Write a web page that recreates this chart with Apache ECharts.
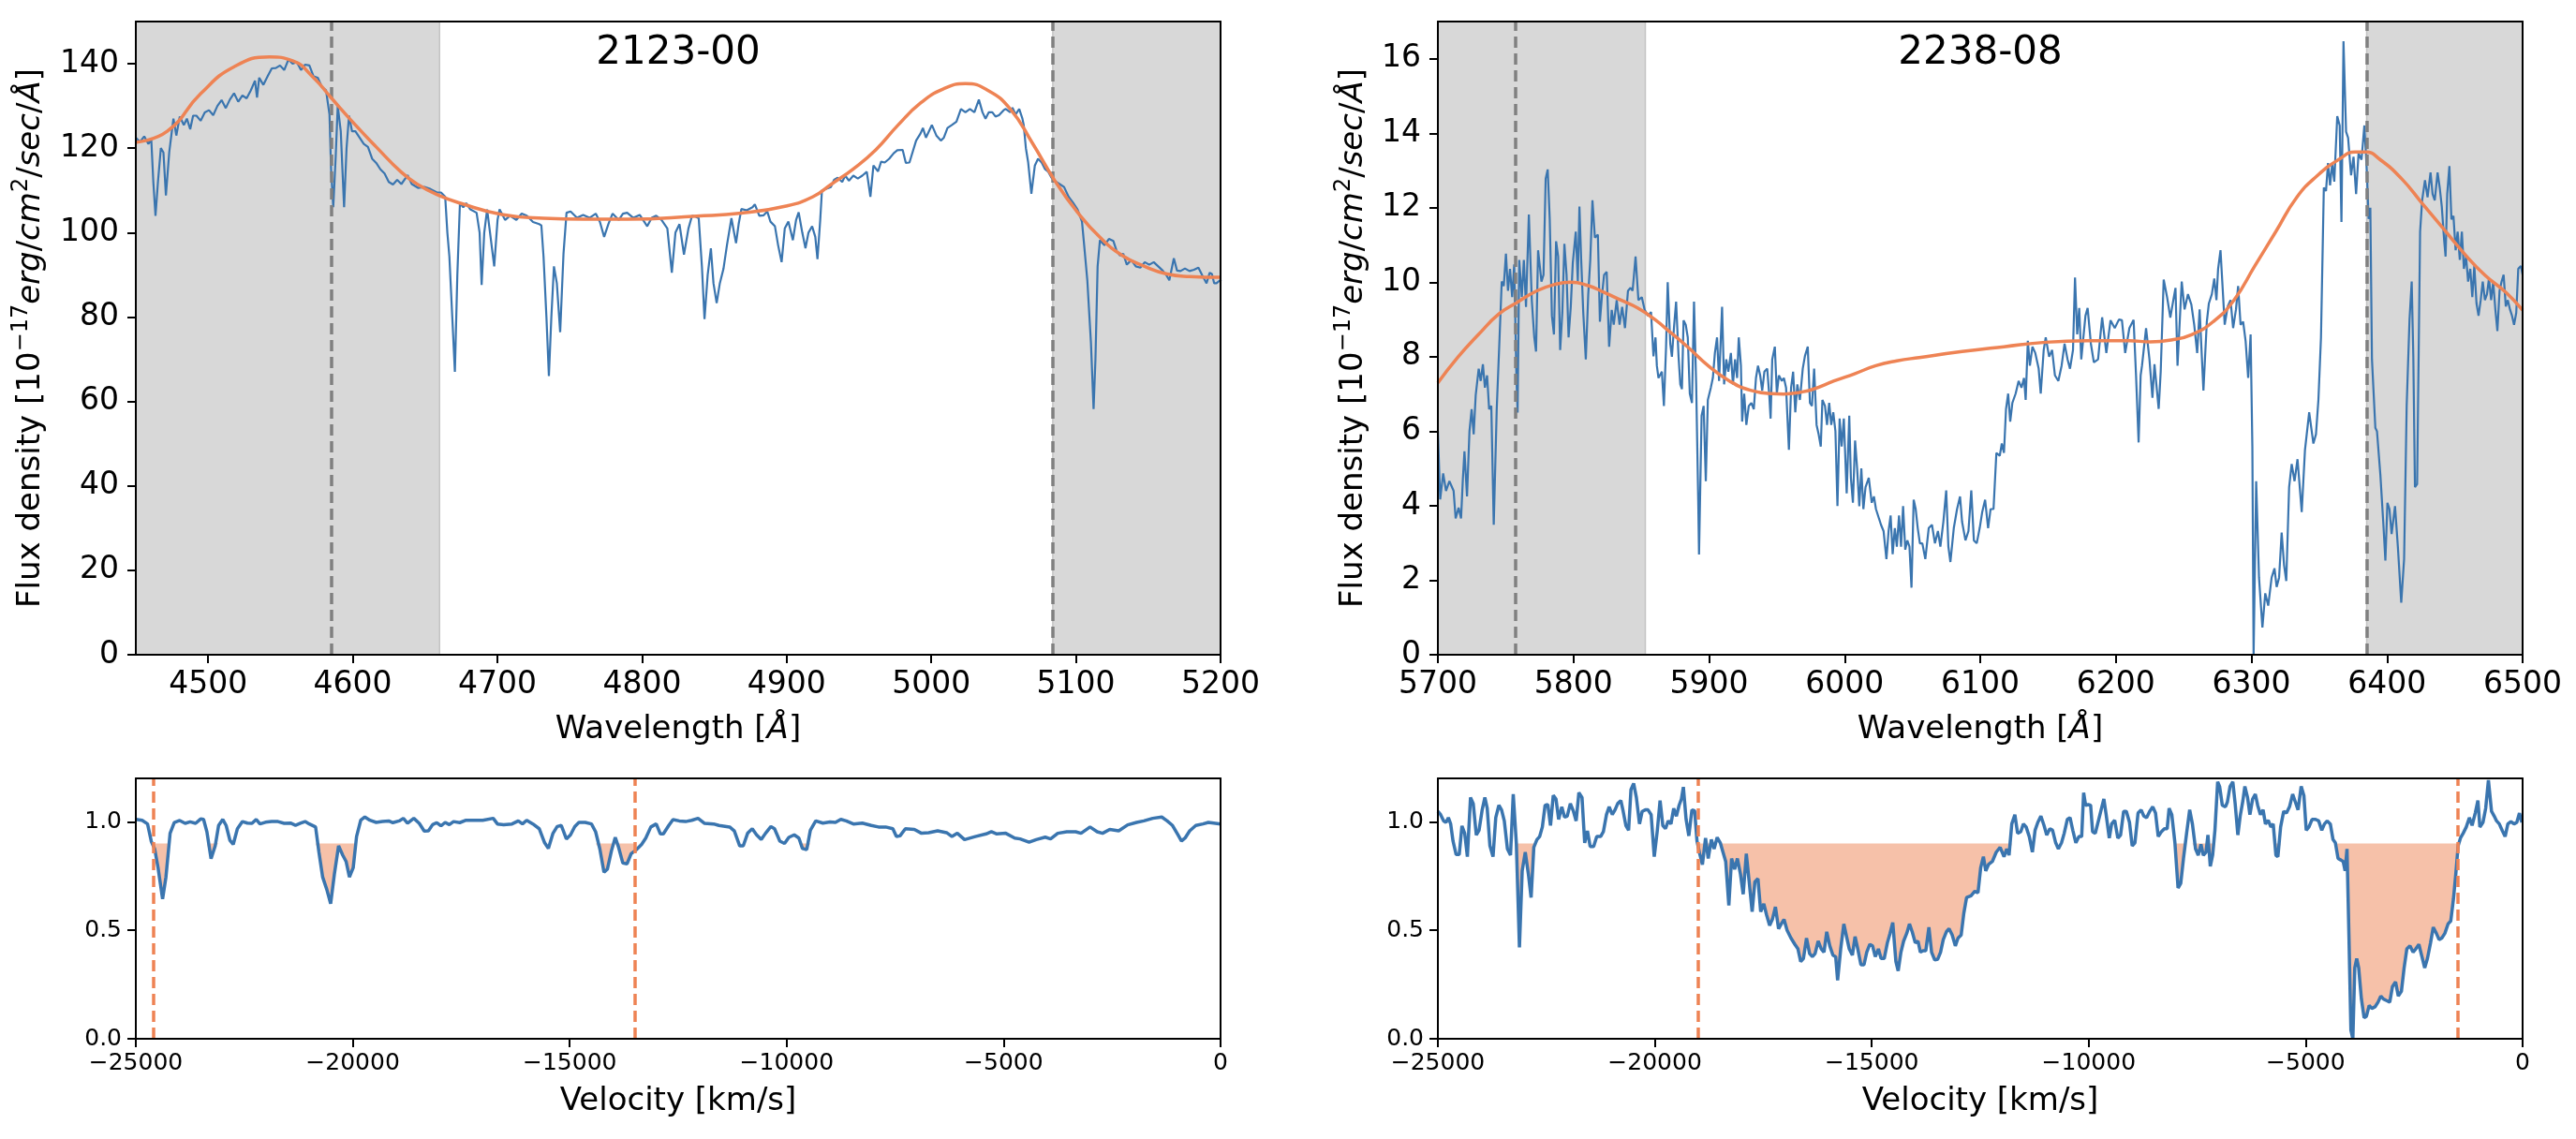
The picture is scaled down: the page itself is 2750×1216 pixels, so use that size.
<!DOCTYPE html>
<html>
<head>
<meta charset="utf-8">
<title>2123-00 / 2238-08</title>
<script src="https://cdn.jsdelivr.net/npm/echarts@6.0.0/dist/echarts.min.js"></script>
<style>
html, body { margin: 0; padding: 0; background: #fff; }
#chart { width: 2750px; height: 1216px; }
</style>
</head>
<body>
<div id="chart"></div>
<script>
// ---- tick values / labels ----
const waveTicks2123 = [4500, 4600, 4700, 4800, 4900, 5000, 5100, 5200]
const waveTicks2238 = [5700, 5800, 5900, 6000, 6100, 6200, 6300, 6400, 6500]
const fluxTicks2123 = [0, 20, 40, 60, 80, 100, 120, 140]
const fluxTicks2238 = [0, 2, 4, 6, 8, 10, 12, 14, 16]
const velTicks = [-25000, -20000, -15000, -10000, -5000, 0]
const velTickLabels = ['\u221225000', '\u221220000', '\u221215000', '\u221210000', '\u22125000', '0']
const normTicks = [0, 0.5, 1]
const normTickLabels = ['0.0', '0.5', '1.0']

const waveRange2123 = [4450, 5200]
const waveRange2238 = [5700, 6500]
const fluxRange2123 = [0, 150]
const fluxRange2238 = [0, 17]
const velRange = [-25000, 0]
const normRange = [0, 1.2]

// ---- shaded windows and marker lines ----
const shade2123 = [[4450, 4660], [5084, 5200]]
const dash2123 = [4585, 5084]
const shade2238 = [[5700, 5853], [6385, 6500]]
const dash2238 = [5757, 6385]
const velDash2123 = [-24590, -13500]
const velDash2238 = [-19000, -1500]
const fillLevel = 0.9
const fillRanges2123 = [[-24566, -24210], [-23362, -23092], [-20857, -19913], [-14403, -13488], [-9718, -9454]]
const fillRanges2238 = [[-23192, -22717], [-19028, -11773], [-8013, -7091], [-5685, -5577], [-4315, -1486]]

// ---- 2123-00 spectrum [wavelength, flux] ----
const flux2123 = [
[4450,122.5],[4452.9,121.5],[4455.8,122.8],[4458.7,121],[4460.7,122],[4462.1,112],[4463.6,104],[4465.3,112],[4467.3,120],[4469.1,119],
[4470.8,108.8],[4473.1,119],[4476,127],[4478,123],[4480.4,127.5],[4483.2,125.5],[4485.3,127],[4487.6,124.5],[4489.6,127.7],[4491.9,127.7],
[4494.8,126.5],[4497.7,128.5],[4500.6,129],[4503.5,127.8],[4506.4,130],[4509.3,131.4],[4512.2,129.5],[4515,131.5],[4517.9,133],[4520.8,131],
[4523.7,132.5],[4526.6,131.8],[4529.5,133.7],[4532.4,136],[4533.8,132],[4535.3,136.7],[4538.2,135],[4541.1,137],[4544,138.9],[4546.8,139],
[4549.7,139.6],[4552.6,138.5],[4555.5,141],[4558.4,140],[4561.3,140.4],[4564.2,138.5],[4567.1,139.8],[4570,139.6],[4572.9,137],[4575.8,136.7],
[4578.7,134.5],[4581.5,133.7],[4583.9,128],[4585,115],[4586.5,106],[4588.2,118],[4589.6,130],[4591.7,124],[4594,106],[4595.7,120],
[4597.4,127.7],[4599.5,124],[4601.8,124],[4604.7,122.5],[4607.6,121],[4610.5,120.3],[4613.4,117.5],[4616.2,116.5],[4619.1,115],[4622,114],
[4624.9,112],[4627.8,111.4],[4630.7,112.5],[4633.6,111.5],[4637.9,113.6],[4640.8,111.5],[4645.1,110.6],[4649.5,110.8],[4653.8,110.3],[4658.2,109.5],
[4661,109.5],[4663.9,108.5],[4665.4,100],[4666.8,94.3],[4668.8,80],[4670.6,67],[4672.3,90],[4674.1,107],[4676.4,106],[4678.4,107],
[4681.3,105.5],[4685.6,104.7],[4687.7,100],[4689.1,87.6],[4690.9,100],[4692.9,105.5],[4694.9,100],[4697.8,92],[4700.1,103],[4701.5,105.5],
[4705.3,103],[4708.7,104],[4713.1,103],[4716.8,104.5],[4720.3,104],[4724.6,102.5],[4728.9,102],[4730.4,101.7],[4731.9,94.3],[4733.9,80],
[4735.6,66],[4737.3,80],[4739.1,92],[4741.1,88],[4743.4,76.4],[4745.7,95],[4747.8,104.7],[4750.6,105],[4755,103.5],[4759.3,104.2],
[4763.7,103.5],[4768,104.5],[4770.9,102.5],[4773.8,99],[4776.7,102],[4779.6,104.5],[4783.9,103],[4786.8,104.5],[4789.7,104.7],[4794,103.5],
[4798.4,104.2],[4803.6,101.5],[4806.7,103.5],[4809.8,104],[4813.5,103],[4817.5,101],[4820.6,90.5],[4823.1,100],[4825.9,102],[4829,94.8],
[4832.1,101],[4834.6,104],[4837,103.8],[4839.2,103.4],[4841.4,92],[4843.2,79.5],[4845.4,90],[4847.6,96.3],[4849.4,88],[4851.6,83.3],
[4853.8,88],[4856.3,91.4],[4858.7,97],[4861.8,103.4],[4865,97.5],[4866.8,102],[4868.7,105.6],[4872.4,105.3],[4876.4,106],[4878,106.7],
[4881.1,104],[4884.1,104.1],[4886.6,105],[4888.8,102.6],[4891.9,101.5],[4894.1,97],[4896.5,93],[4898.7,101],[4901.2,102.6],[4904.3,98.2],
[4906.5,103],[4908.3,104.8],[4910.8,100],[4913,96.3],[4915.1,100],[4917.6,101.5],[4919.8,99],[4921.3,93.7],[4923.2,103],[4924.4,110],
[4927.5,110.4],[4930.6,110.8],[4932.8,112.5],[4935.3,113],[4938.4,112],[4940.5,113.5],[4943,112.3],[4946.1,113.5],[4949.2,112.8],[4952.3,113.5],
[4955.4,114.4],[4957.9,108.5],[4960,115.9],[4963.2,114.5],[4965.3,116.8],[4967.8,116.6],[4970.9,117.5],[4974,118.8],[4976.5,119.5],[4980.2,119.6],
[4982.4,116.5],[4984.9,116.6],[4989.5,121.8],[4992.6,123.5],[4994.2,124.8],[4996.3,122.5],[5000.4,125.5],[5003.5,123],[5006.6,121.8],[5008.7,122.5],
[5011.2,124.8],[5014.3,125.5],[5017.4,126.3],[5020.5,129.3],[5023.6,128.5],[5026.7,129.3],[5029.8,128.5],[5032.9,131.5],[5035.4,128.5],[5037.5,127],
[5039.7,128.5],[5042.2,128.5],[5044.4,127.5],[5046.8,127.8],[5050,129],[5051.5,129.3],[5054.6,128.5],[5056.1,129.6],[5058.3,128],[5060.8,129.3],
[5063,127],[5063.9,125.5],[5065.4,120],[5067,116.6],[5069.2,109.2],[5071.6,115.9],[5073.8,117.5],[5076.3,116.6],[5078.7,115],[5080.9,114.4],
[5083.1,113],[5085.6,112.2],[5088.7,111.5],[5091.8,110.8],[5094.9,108.5],[5098,107.1],[5101.1,105.5],[5104.2,102.6],[5105.7,97],[5107.9,88.6],
[5110.4,73.8],[5112.2,58.2],[5113.5,70],[5115,92],[5116.6,98.2],[5119.7,97],[5122.8,98.5],[5125.9,98],[5128.3,95.5],[5130.5,94.6],
[5132.7,95],[5135.2,92.4],[5138.3,93.5],[5141.4,92],[5144.5,91.7],[5147.6,93],[5150.7,92.4],[5153.8,93],[5156.9,92],[5160,91],
[5162.4,90],[5164.6,88.7],[5167.7,93.9],[5169.9,91],[5172.3,90.9],[5175.4,91.5],[5178.5,90.9],[5181.6,91.2],[5184.7,91.7],[5187.2,90],
[5190.3,88],[5192.5,90.5],[5194,90.2],[5195.6,88],[5197.2,88],[5199.6,88.7],[5200.5,88.5]
]

const model2123 = [
[4450,121.4],[4471.7,124],[4494.8,132.9],[4518,139.3],[4542.5,141.6],[4558.4,140.7],[4572.9,136.7],[4584.4,132.2],[4601.8,125.5],[4616.2,120.3],
[4633.6,114.3],[4645,111.4],[4659.6,108.8],[4674,107],[4703,104.3],[4731.9,103.4],[4760,103.2],[4789.7,103.2],[4837.7,103.9],[4868.7,104.6],
[4899.6,106.3],[4918.2,108.5],[4930.6,111.4],[4946.1,115.1],[4961.6,119.6],[4977.1,125.5],[4992.6,130.7],[5008.1,134],[5023.6,135.3],[5039.1,133.7],
[5054.6,129.3],[5070.1,121.1],[5085.6,112.2],[5101.1,104.8],[5116.6,98.9],[5132,94.6],[5147.5,92],[5163,90.2],[5178.5,89.6],[5200,89.4]
]

// ---- 2238-08 spectrum [wavelength, flux] ----
const flux2238 = [
[5700,6.0],[5701.7,4.17],[5703.9,4.87],[5706,4.4],[5708.5,4.66],[5711.6,4.4],[5713.1,3.66],[5715.3,3.95],[5717.1,3.66],[5718.4,4.7],
[5719.6,5.46],[5721.5,4.25],[5723.3,6.0],[5724.9,6.59],[5726.4,5.92],[5727.9,6.97],[5730.1,7.68],[5731.6,7.35],[5733.2,7.8],[5734.7,7.17],
[5736.3,7.5],[5737.8,6.59],[5739.4,6.68],[5741.2,3.49],[5743.4,6.59],[5745.5,8.52],[5747.1,10.02],[5748.6,9.9],[5750.2,10.77],[5751.7,9.77],
[5753.2,10.36],[5754.8,9.6],[5756.3,10.48],[5757.9,7.5],[5758.8,6.5],[5760,10.6],[5761.9,9.6],[5763.4,10.6],[5765,9.34],[5767.1,11.82],
[5769.3,9.5],[5771.1,8.52],[5772.4,8.14],[5773.9,10.86],[5776.4,10.02],[5777.9,10.2],[5779.5,12.78],[5781,13.03],[5782.5,11.69],[5784.1,9.1],
[5785.6,8.6],[5787.2,11.1],[5788.7,10.69],[5790.2,8.18],[5791.8,9.2],[5793.3,11.03],[5794.9,10.2],[5796.4,8.52],[5798,9.34],[5799.5,10.52],
[5801.7,11.36],[5803.2,10.02],[5804.4,12.03],[5805.7,10.6],[5807.2,9.2],[5809.1,7.93],[5810.9,9.68],[5812.4,10.6],[5814,12.2],[5815.8,11.2],
[5818,11.28],[5819.5,8.94],[5821.1,9.68],[5822.6,10.2],[5824.5,10.28],[5826.3,8.27],[5828.2,9.26],[5829.7,8.86],[5831.9,9.52],[5834,8.86],
[5835.9,9.34],[5838,8.77],[5840.2,9.77],[5842.1,9.85],[5843.6,9.77],[5845.8,10.69],[5847.9,9.52],[5850.4,9.6],[5852.5,9.26],[5855,9.1],
[5857.2,9.2],[5859,8.01],[5860.5,8.52],[5861.5,7.76],[5862.7,7.43],[5865.2,7.6],[5866.7,6.68],[5868.3,8.27],[5869.5,10.0],[5871.4,8.35],
[5872.6,8.0],[5874.1,8.77],[5875.7,9.48],[5877.5,8.01],[5878.8,7.26],[5880,7.13],[5881.2,8.98],[5882.8,8.86],[5884.3,8.52],[5885.8,7.01],
[5887.4,6.76],[5888.9,9.48],[5890.5,7.26],[5892,4.16],[5892.6,2.69],[5894.5,6.42],[5896,6.68],[5897.6,4.66],[5899.1,6.84],[5901.3,7.17],
[5902.8,7.43],[5904.3,8.1],[5905.9,8.52],[5907.4,7.35],[5909.6,9.34],[5911.1,7.26],[5912.7,7.93],[5914.2,7.6],[5916.1,8.1],[5917.6,7.26],
[5919.2,7.93],[5920.7,7.43],[5921.9,8.52],[5923.5,7.76],[5924.4,6.26],[5925.9,7.01],[5927.5,6.17],[5929.3,6.68],[5931.2,6.76],[5933,6.59],
[5934.6,7.43],[5936.1,7.76],[5937.7,7.5],[5939.2,7.09],[5940.8,7.6],[5942.9,7.68],[5944.5,6.92],[5945.4,6.34],[5946.6,7.93],[5948.5,8.27],
[5950,7.01],[5951.5,7.5],[5953.7,7.35],[5955.2,7.43],[5956.8,7.17],[5958.9,5.5],[5960.5,7.17],[5962,7.6],[5963.6,6.51],[5965.1,7.26],
[5967,6.84],[5969.1,7.68],[5970.7,8.02],[5972.8,8.27],[5974.4,6.76],[5975.9,6.68],[5977.5,7.68],[5979.3,6.17],[5980.8,5.92],[5982.4,5.59],
[5983.6,6.84],[5985.5,6.68],[5987,6.17],[5988.6,6.76],[5990.1,6.17],[5991.6,6.51],[5993.2,6.0],[5994.7,3.99],[5996.3,6.34],[5997.8,5.59],
[5999.4,6.34],[6001.5,4.33],[6003.4,6.42],[6004.6,4.75],[6006.1,4.08],[6007.7,5.75],[6009.2,5.0],[6010.8,3.99],[6012.3,5.0],[6013.8,3.91],
[6015.4,4.5],[6017.8,4.75],[6020,4.08],[6021.6,4.25],[6023.1,3.91],[6025.3,3.66],[6026.8,3.49],[6028.7,3.32],[6030.8,2.57],[6032.4,3.32],
[6033.9,3.74],[6035.4,2.7],[6037,3.4],[6038.5,2.9],[6040.1,3.74],[6041.6,2.9],[6043.1,3.99],[6044.7,2.82],[6046.2,3.07],[6047.8,2.9],
[6049.3,1.8],[6050.9,4.16],[6052.4,3.91],[6053.9,3.4],[6055.5,2.99],[6057.3,2.99],[6059.5,2.57],[6062,3.4],[6064.4,3.49],[6066.6,2.99],
[6068.8,3.32],[6070.6,2.9],[6072.8,3.57],[6074.9,4.41],[6076.5,2.9],[6078,2.49],[6080.5,3.4],[6082.9,3.91],[6085.1,4.25],[6086.6,3.57],
[6089.1,3.07],[6091.3,3.32],[6093.4,4.41],[6095.3,3.07],[6097.4,2.99],[6099.6,3.4],[6101.4,3.82],[6103.6,4.16],[6105.8,3.4],[6107.6,3.91],
[6109.8,3.91],[6111.9,5.42],[6114.4,5.34],[6115.9,5.67],[6117.5,5.42],[6119,6.59],[6120.6,7.01],[6122.1,6.26],[6123.7,6.76],[6126.1,7.01],
[6128.3,7.35],[6130.4,7.17],[6132.3,7.43],[6133.5,6.84],[6135.1,8.43],[6136.6,7.76],[6138.5,8.27],[6140.6,8.1],[6143.1,7.68],[6144.6,7.01],
[6146.8,8.18],[6148.3,8.52],[6150.8,8.0],[6153,8.18],[6155.1,7.5],[6157.6,7.35],[6160,7.76],[6162.2,8.35],[6164.4,7.93],[6166.2,7.68],
[6168.4,8.18],[6169.9,10.13],[6171.5,8.6],[6173,9.31],[6174.5,7.93],[6177.6,9.1],[6179.2,9.31],[6181.6,8.35],[6183.8,7.85],[6186.9,7.93],
[6189.9,9.06],[6193,8.1],[6196.1,8.98],[6199.2,8.77],[6202.3,9.0],[6204.5,8.98],[6206.9,8.1],[6210,8.77],[6213.1,8.99],[6214.9,7.5],
[6216.8,5.7],[6218.3,7.5],[6219.3,7.76],[6222.3,8.77],[6224.8,7.93],[6227,6.9],[6228.5,7.8],[6231.6,6.6],[6233.1,7.6],[6235.3,10.07],
[6237.8,9.6],[6240.2,9.05],[6242.4,9.52],[6244,9.85],[6245.5,7.76],[6248.6,10.02],[6250.7,9.27],[6253.2,9.68],[6255.7,9.4],[6257.8,8.86],
[6260,8.1],[6261.8,9.27],[6264.6,7.09],[6267.1,8.94],[6268.6,9.43],[6270.8,9.68],[6272.6,10.1],[6274.2,9.52],[6275.4,10.35],[6277.2,10.86],
[6278.5,10.02],[6280.3,8.86],[6282.5,9.35],[6284.6,9.52],[6286.5,8.77],[6288.6,9.27],[6290.2,9.9],[6292,8.86],[6293.9,8.94],[6295.7,8.43],
[6297.6,7.43],[6299.4,8.6],[6300.7,5.58],[6301.6,0.0],[6303.5,4.66],[6305.6,2.07],[6308.1,0.73],[6310.2,1.65],[6312.4,1.32],[6314.9,2.07],
[6317,2.32],[6318.6,1.82],[6320.4,2.07],[6322.3,3.28],[6324.1,2.4],[6325.7,1.98],[6327.8,4.5],[6329.7,5.12],[6331.8,4.66],[6334,5.25],
[6337.1,3.83],[6339.5,5.5],[6342.6,6.51],[6345.7,5.67],[6347.6,5.92],[6349.4,6.84],[6351.3,8.52],[6353.4,12.54],[6355,12.45],[6356.5,13.2],
[6358,12.6],[6359.6,13.2],[6361.1,12.7],[6363.3,14.46],[6365.1,14.21],[6366.4,11.62],[6367.9,16.47],[6369.8,14.04],[6371.3,13.88],[6373.5,12.87],
[6375.3,13.37],[6377.2,12.37],[6379,13.46],[6381.2,13.29],[6383.3,14.21],[6385.2,12.9],[6386.4,11.7],[6387.7,12.0],[6388.9,7.93],[6391.4,6.09],
[6392.6,6.0],[6395.1,4.83],[6397.2,3.57],[6398.8,2.53],[6400.3,4.08],[6401.8,3.91],[6403.4,3.24],[6405.9,3.99],[6408,2.9],[6410.5,1.4],
[6412.6,2.57],[6414.5,6.68],[6416.6,9.0],[6418.2,10.02],[6419.4,8.0],[6420.6,4.5],[6422.2,4.58],[6424.4,11.36],[6425.9,12.2],[6428,12.74],
[6429.9,12.28],[6432.1,12.95],[6433.6,12.37],[6435.2,12.2],[6437.3,12.95],[6438.9,12.53],[6440.4,12.03],[6442,11.19],[6443.2,10.69],[6444.4,12.37],
[6446,13.12],[6447.5,11.69],[6449,11.78],[6450.6,10.86],[6452.1,11.36],[6453.7,10.6],[6455.2,11.36],[6456.7,10.36],[6458.3,10.69],[6459.8,10.02],
[6461.4,10.36],[6462.9,9.6],[6464.4,10.44],[6466,9.43],[6467.5,9.1],[6469.1,9.52],[6470.6,10.02],[6472.2,9.52],[6473.7,9.68],[6475.2,10.1],
[6476.8,9.52],[6478.3,10.02],[6479.9,9.27],[6481.4,8.69],[6483,9.77],[6484.5,10.02],[6486,10.2],[6487.6,9.35],[6489.1,9.52],[6490.7,9.27],
[6492.2,9.1],[6493.7,8.86],[6495.3,9.18],[6496.8,10.36],[6498.7,10.44],[6500,10.2]
]

const model2238 = [
[5700,7.3],[5715,8.0],[5730,8.6],[5745,9.15],[5758,9.45],[5773,9.77],[5786,9.94],[5798,10.0],[5810,9.92],[5822.6,9.73],
[5835,9.52],[5847.3,9.31],[5859.6,9.01],[5872,8.64],[5884.3,8.26],[5899.7,7.75],[5915,7.35],[5930.5,7.1],[5946,7.01],[5955,7.0],
[5967.6,7.05],[5976.8,7.13],[5992.2,7.35],[6007.7,7.55],[6023,7.76],[6038.5,7.89],[6055,7.98],[6086.6,8.14],[6117.5,8.27],[6148.3,8.39],
[6179.2,8.43],[6210,8.43],[6225.4,8.4],[6240.8,8.45],[6256.3,8.6],[6271.7,8.94],[6287.1,9.52],[6302.5,10.44],[6318,11.36],[6333.4,12.28],
[6348.8,12.87],[6364.2,13.29],[6376.6,13.5],[6384.3,13.5],[6395,13.29],[6410.5,12.79],[6425.9,12.12],[6441.3,11.45],[6456.7,10.78],[6472.2,10.19],
[6487.6,9.73],[6500,9.25]
]

// ---- normalised profiles [velocity km/s, flux/continuum] ----
const vel2123 = [
[-25000,1.011],[-24855,1.007],[-24730,0.99],[-24644,0.91],[-24566,0.875],[-24489,0.79],[-24383,0.644],[-24306,0.745],[-24210,0.947],[-24114,0.997],
[-23988,1.006],[-23863,0.993],[-23748,1.0],[-23622,0.993],[-23507,1.013],[-23439,1.011],[-23362,0.954],[-23266,0.83],[-23170,0.889],[-23092,0.983],
[-22996,1.011],[-22919,0.983],[-22832,0.915],[-22755,0.896],[-22659,0.968],[-22543,1.001],[-22428,0.994],[-22322,0.993],[-22225,1.011],[-22139,0.99],
[-22013,0.998],[-21869,1.001],[-21724,1.001],[-21580,0.993],[-21435,0.994],[-21320,0.984],[-21195,0.994],[-21098,1.001],[-21002,0.99],[-20857,0.976],
[-20780,0.86],[-20694,0.745],[-20597,0.687],[-20510,0.622],[-20424,0.759],[-20327,0.889],[-20231,0.846],[-20154,0.817],[-20077,0.745],[-19990,0.788],
[-19913,0.932],[-19817,1.007],[-19721,1.022],[-19605,1.007],[-19460,0.997],[-19316,1.001],[-19171,1.004],[-19075,0.996],[-18931,1.004],[-18834,1.016],
[-18738,0.993],[-18593,1.016],[-18468,0.993],[-18353,0.957],[-18256,0.958],[-18160,0.987],[-18064,0.996],[-17967,0.981],[-17871,0.997],[-17775,0.987],
[-17678,1.001],[-17534,0.996],[-17389,1.007],[-17197,1.007],[-17004,1.007],[-16763,1.016],[-16666,0.99],[-16522,0.986],[-16329,0.99],[-16185,1.004],
[-16089,0.99],[-15992,1.007],[-15848,0.99],[-15703,0.968],[-15578,0.903],[-15491,0.877],[-15385,0.947],[-15289,0.978],[-15193,0.983],[-15077,0.921],
[-14981,0.94],[-14884,0.978],[-14788,0.997],[-14644,0.997],[-14499,0.99],[-14403,0.954],[-14306,0.875],[-14210,0.767],[-14133,0.781],[-14037,0.867],
[-13950,0.928],[-13873,0.882],[-13776,0.81],[-13680,0.806],[-13584,0.853],[-13488,0.867],[-13343,0.896],[-13247,0.925],[-13131,0.976],[-13006,0.99],
[-12910,0.944],[-12842,0.944],[-12717,0.983],[-12620,1.01],[-12476,1.004],[-12331,1.001],[-12187,1.007],[-12042,1.016],[-11898,0.993],[-11685,0.99],
[-11561,0.983],[-11313,0.976],[-11206,0.958],[-11082,0.889],[-11000,0.889],[-10900,0.947],[-10793,0.968],[-10694,0.94],[-10586,0.918],[-10487,0.947],
[-10363,0.978],[-10280,0.968],[-10157,0.911],[-10049,0.9],[-9950,0.928],[-9826,0.94],[-9718,0.925],[-9636,0.877],[-9537,0.872],[-9454,0.961],
[-9330,1.004],[-9165,0.994],[-9000,0.999],[-8876,0.997],[-8752,1.011],[-8628,1.004],[-8463,0.99],[-8256,0.994],[-8049,0.983],[-7884,0.976],
[-7719,0.976],[-7553,0.968],[-7471,0.932],[-7388,0.935],[-7264,0.968],[-7057,0.965],[-6892,0.947],[-6727,0.95],[-6520,0.958],[-6314,0.95],
[-6190,0.932],[-6066,0.947],[-5900,0.918],[-5653,0.932],[-5405,0.944],[-5281,0.954],[-5157,0.944],[-4950,0.947],[-4744,0.925],[-4620,0.921],
[-4413,0.906],[-4248,0.918],[-4041,0.929],[-3917,0.921],[-3752,0.947],[-3545,0.954],[-3339,0.954],[-3215,0.947],[-3008,0.976],[-2843,0.954],
[-2719,0.947],[-2554,0.965],[-2347,0.958],[-2140,0.986],[-1934,0.997],[-1769,1.004],[-1562,1.016],[-1355,1.022],[-1231,1.004],[-1107,0.983],
[-983,0.94],[-901,0.911],[-818,0.925],[-711,0.958],[-570,0.983],[-405,0.99],[-281,0.997],[-157,0.994],[0,0.99]
]

const vel2238 = [
[-25000,1.048],[-24937,1.033],[-24866,1.004],[-24812,0.997],[-24758,1.019],[-24705,0.99],[-24651,0.911],[-24579,0.849],[-24508,0.849],[-24445,0.981],
[-24382,0.947],[-24320,0.839],[-24248,1.112],[-24185,1.084],[-24114,0.939],[-24051,0.961],[-23979,1.055],[-23917,1.112],[-23863,1.062],[-23800,0.889],
[-23729,0.839],[-23666,1.019],[-23594,1.076],[-23532,1.055],[-23469,1.004],[-23397,0.875],[-23326,0.846],[-23263,1.127],[-23192,0.903],[-23120,0.421],
[-23057,0.774],[-22986,0.86],[-22914,0.759],[-22851,0.651],[-22789,0.882],[-22717,0.918],[-22654,0.932],[-22592,0.976],[-22529,1.076],[-22466,1.079],
[-22404,0.983],[-22341,1.122],[-22278,1.105],[-22216,1.011],[-22144,1.069],[-22081,1.022],[-22019,1.026],[-21947,1.084],[-21875,1.048],[-21813,1.004],
[-21750,1.134],[-21678,1.112],[-21616,0.903],[-21553,0.958],[-21490,0.886],[-21410,0.886],[-21338,0.932],[-21249,0.932],[-21186,0.954],[-21114,1.033],
[-21052,1.069],[-20980,1.033],[-20917,1.055],[-20855,1.084],[-20783,1.098],[-20729,1.048],[-20667,0.983],[-20604,0.961],[-20550,1.148],[-20488,1.177],
[-20425,1.112],[-20353,0.99],[-20291,1.048],[-20219,1.055],[-20156,1.055],[-20085,1.033],[-20013,0.839],[-19942,0.961],[-19879,1.098],[-19816,0.983],
[-19754,0.968],[-19691,1.004],[-19628,0.99],[-19565,1.062],[-19503,1.026],[-19440,1.076],[-19387,1.105],[-19342,1.16],[-19279,1.011],[-19216,0.935],
[-19145,1.055],[-19082,1.05],[-19028,0.911],[-18966,0.853],[-18903,0.803],[-18831,0.925],[-18769,0.831],[-18697,0.918],[-18634,0.875],[-18563,0.928],
[-18491,0.903],[-18429,0.86],[-18366,0.817],[-18294,0.615],[-18231,0.831],[-18160,0.781],[-18097,0.831],[-18026,0.759],[-17963,0.666],[-17891,0.853],
[-17829,0.731],[-17757,0.586],[-17694,0.723],[-17623,0.738],[-17560,0.586],[-17488,0.622],[-17426,0.572],[-17354,0.522],[-17291,0.55],[-17220,0.608],
[-17148,0.507],[-17086,0.529],[-17023,0.55],[-16951,0.5],[-16862,0.464],[-16772,0.435],[-16701,0.414],[-16638,0.356],[-16575,0.37],[-16504,0.464],
[-16432,0.392],[-16369,0.378],[-16307,0.392],[-16235,0.45],[-16164,0.414],[-16101,0.399],[-16038,0.493],[-15967,0.428],[-15895,0.385],[-15832,0.378],
[-15787,0.269],[-15716,0.414],[-15644,0.529],[-15581,0.471],[-15519,0.414],[-15447,0.385],[-15385,0.471],[-15322,0.414],[-15250,0.341],[-15179,0.341],
[-15116,0.399],[-15045,0.435],[-14981,0.428],[-14919,0.378],[-14847,0.414],[-14785,0.37],[-14713,0.37],[-14641,0.442],[-14579,0.486],[-14516,0.536],
[-14444,0.356],[-14391,0.313],[-14328,0.399],[-14266,0.45],[-14194,0.486],[-14131,0.529],[-14068,0.493],[-13997,0.442],[-13934,0.45],[-13880,0.399],
[-13818,0.406],[-13755,0.406],[-13683,0.514],[-13621,0.399],[-13549,0.363],[-13478,0.367],[-13415,0.399],[-13352,0.457],[-13281,0.493],[-13218,0.507],
[-13146,0.478],[-13074,0.428],[-13012,0.464],[-12940,0.478],[-12878,0.579],[-12815,0.651],[-12713,0.659],[-12624,0.68],[-12552,0.673],[-12490,0.788],
[-12427,0.839],[-12373,0.774],[-12310,0.803],[-12221,0.817],[-12131,0.86],[-12042,0.882],[-11952,0.839],[-11890,0.875],[-11836,0.846],[-11773,0.99],
[-11702,1.033],[-11639,0.947],[-11567,0.954],[-11505,0.99],[-11442,0.976],[-11370,0.932],[-11298,0.86],[-11236,0.961],[-11173,0.997],[-11102,1.026],
[-11030,0.983],[-10967,0.939],[-10896,0.968],[-10833,0.961],[-10761,0.903],[-10699,0.875],[-10627,0.903],[-10565,0.947],[-10493,1.011],[-10430,1.019],
[-10367,0.961],[-10296,0.903],[-10224,0.932],[-10162,0.932],[-10117,1.134],[-10072,1.076],[-10010,1.079],[-9956,1.076],[-9911,0.954],[-9848,0.947],
[-9777,1.004],[-9714,1.055],[-9651,1.105],[-9598,1.033],[-9526,0.925],[-9472,0.99],[-9401,1.007],[-9329,0.925],[-9266,0.939],[-9195,1.048],
[-9132,1.048],[-9060,0.997],[-8998,0.889],[-8935,0.903],[-8863,1.04],[-8792,1.055],[-8729,1.026],[-8666,1.019],[-8595,1.048],[-8523,1.069],
[-8460,1.04],[-8398,0.932],[-8326,0.954],[-8255,0.968],[-8192,0.968],[-8147,1.062],[-8085,1.033],[-8013,0.903],[-7941,0.695],[-7879,0.716],
[-7816,0.831],[-7744,0.947],[-7673,1.055],[-7610,0.99],[-7538,0.875],[-7476,0.846],[-7413,0.896],[-7359,0.846],[-7297,0.86],[-7252,0.939],
[-7198,0.795],[-7144,0.846],[-7091,0.961],[-7028,1.184],[-6983,1.163],[-6921,1.076],[-6849,1.069],[-6804,1.091],[-6742,1.163],[-6679,1.184],
[-6625,1.084],[-6563,0.939],[-6509,1.026],[-6446,1.098],[-6401,1.163],[-6339,1.112],[-6285,1.033],[-6222,1.105],[-6160,1.127],[-6106,1.076],
[-6043,1.033],[-5981,1.055],[-5927,0.99],[-5864,1.007],[-5801,0.976],[-5748,0.99],[-5685,0.846],[-5640,0.839],[-5577,0.976],[-5506,1.048],
[-5443,1.04],[-5372,1.069],[-5300,1.127],[-5237,1.091],[-5175,1.055],[-5103,1.163],[-5040,1.12],[-4987,0.961],[-4924,0.976],[-4853,1.011],
[-4772,1.011],[-4700,1.004],[-4629,0.961],[-4566,0.99],[-4503,1.004],[-4432,0.99],[-4369,0.918],[-4315,0.903],[-4253,0.831],[-4190,0.824],
[-4136,0.817],[-4091,0.774],[-4047,0.875],[-4002,0.471],[-3957,0.039],[-3912,0.0],[-3868,0.327],[-3823,0.37],[-3778,0.327],[-3715,0.183],
[-3653,0.097],[-3599,0.104],[-3536,0.154],[-3474,0.14],[-3402,0.147],[-3331,0.169],[-3268,0.197],[-3205,0.183],[-3134,0.176],[-3062,0.169],
[-2999,0.241],[-2928,0.262],[-2865,0.197],[-2793,0.219],[-2731,0.327],[-2668,0.414],[-2596,0.428],[-2525,0.399],[-2462,0.414],[-2390,0.435],
[-2328,0.385],[-2256,0.327],[-2193,0.37],[-2122,0.442],[-2059,0.514],[-1988,0.486],[-1925,0.457],[-1862,0.464],[-1791,0.486],[-1719,0.529],
[-1656,0.543],[-1594,0.644],[-1540,0.759],[-1486,0.889],[-1432,0.925],[-1370,0.947],[-1298,0.976],[-1227,1.019],[-1164,0.983],[-1092,1.04],
[-1030,1.098],[-985,0.976],[-913,0.997],[-851,1.062],[-788,1.192],[-716,1.048],[-654,1.026],[-600,1.004],[-537,0.99],[-466,0.958],
[-403,0.932],[-340,0.99],[-269,1.001],[-197,0.99],[-134,0.997],[-72,1.04],[-18,0.997]
]

const FONT = 'DejaVu Sans'
const BLUE = '#3a75af'
const ORANGE = '#ee8354'
const GRAY = '#808080'

// panel boxes in page pixels: [left, top, width, height]
const boxes = [[145, 23, 1158, 676], [1535, 23, 1158, 676], [145, 831, 1158, 278], [1535, 831, 1158, 278]]

function fillSeries(vel, ranges, level) {
    return vel.map(([v, y]) => {
        let inside = ranges.some(r => v >= r[0] && v <= r[1])
        return inside ? [v, Math.min(y, level)] : [v, '-']
    })
}

function mainAxis(dim, gridIndex, range, ticks, labels, fontSize, margin, name) {
    let ax = {
        type: 'value', gridIndex: gridIndex, min: range[0], max: range[1], z: 10,
        position: dim === 'x' ? 'bottom' : 'left',
        axisLine: { show: true, onZero: false, lineStyle: { color: '#000', width: 2 } },
        axisTick: { show: true, length: 9, customValues: ticks, lineStyle: { color: '#000', width: 2 } },
        axisLabel: {
            customValues: ticks, fontFamily: FONT, fontSize: fontSize, color: '#000', margin: margin,
            formatter: v => {
                let i = ticks.indexOf(v)
                return i >= 0 ? labels[i] : ''
            }
        },
        splitLine: { show: false },
        nameMoveOverlap: false
    }
    if (name) Object.assign(ax, name)
    return ax
}

function frameAxis(dim, gridIndex, range) {
    return {
        type: 'value', gridIndex: gridIndex, min: range[0], max: range[1], z: 10,
        position: dim === 'x' ? 'top' : 'right',
        axisLine: { show: true, onZero: false, lineStyle: { color: '#000', width: 2 } },
        axisTick: { show: false }, axisLabel: { show: false }, splitLine: { show: false }
    }
}

const richName = {
    n: { fontFamily: FONT, fontSize: 34, color: '#000', lineHeight: 44 },
    i: { fontFamily: FONT, fontSize: 34, fontStyle: 'italic', color: '#000', lineHeight: 44 },
    s: { fontFamily: FONT, fontSize: 24, color: '#000', lineHeight: 44, verticalAlign: 'top', padding: [0, 0, 14, 0] }
}
const fluxName = '{n|Flux density [10}{s|\u221217}{i|erg}{n|/}{i|cm}{s|2}{n|/}{i|sec}{n|/}{i|\u00c5}{n|]}'
const waveName = '{n|Wavelength [}{i|\u00c5}{n|]}'

function xName(text, gap) {
    return { name: text, nameLocation: 'middle', nameGap: gap, nameTextStyle: { fontFamily: FONT, fontSize: 34, color: '#000', rich: richName } }
}
function yName(text, gap) {
    return { name: text, nameLocation: 'middle', nameRotate: 90, nameGap: gap, nameTextStyle: { fontFamily: FONT, fontSize: 34, color: '#000', rich: richName } }
}

const str = a => a.map(String)

let xAxes = [
    mainAxis('x', 0, waveRange2123, waveTicks2123, str(waveTicks2123), 33, 16, xName(waveName, 58)), frameAxis('x', 0, waveRange2123),
    mainAxis('x', 1, waveRange2238, waveTicks2238, str(waveTicks2238), 33, 16, xName(waveName, 58)), frameAxis('x', 1, waveRange2238),
    mainAxis('x', 2, velRange, velTicks, velTickLabels, 25, 14, xName('Velocity [km/s]', 50)), frameAxis('x', 2, velRange),
    mainAxis('x', 3, velRange, velTicks, velTickLabels, 25, 14, xName('Velocity [km/s]', 50)), frameAxis('x', 3, velRange)
]
let yAxes = [
    mainAxis('y', 0, fluxRange2123, fluxTicks2123, str(fluxTicks2123), 33, 18, yName(fluxName, 90)), frameAxis('y', 0, fluxRange2123),
    mainAxis('y', 1, fluxRange2238, fluxTicks2238, str(fluxTicks2238), 33, 18, yName(fluxName, 68)), frameAxis('y', 1, fluxRange2238),
    mainAxis('y', 2, normRange, normTicks, normTickLabels, 25, 15), frameAxis('y', 2, normRange),
    mainAxis('y', 3, normRange, normTicks, normTickLabels, 25, 15), frameAxis('y', 3, normRange)
]

function spectrumPanel(p, flux, model, shade, dash) {
    let ax = { xAxisIndex: 2 * p, yAxisIndex: 2 * p, silent: true }
    return [
        Object.assign({
            type: 'line', data: [], z: 1,
            markArea: {
                silent: true,
                itemStyle: { color: '#d8d8d8', borderColor: '#c4c4c4', borderWidth: 1.5 },
                data: shade.map(s => [{ xAxis: s[0] }, { xAxis: s[1] }])
            }
        }, ax),
        Object.assign({ type: 'line', data: flux, symbol: 'none', lineStyle: { color: BLUE, width: 2.2 }, z: 3 }, ax),
        Object.assign({
            type: 'line', data: [], z: 4,
            markLine: {
                silent: true, symbol: ['none', 'none'], label: { show: false },
                lineStyle: { color: GRAY, width: 3.5, type: [12, 6] },
                data: dash.map(x => ({ xAxis: x }))
            }
        }, ax),
        Object.assign({ type: 'line', data: model, symbol: 'none', smooth: 0.5, lineStyle: { color: ORANGE, width: 3.5 }, z: 5 }, ax)
    ]
}

function velocityPanel(p, vel, ranges, dash) {
    let ax = { xAxisIndex: 2 * p, yAxisIndex: 2 * p, silent: true }
    return [
        Object.assign({
            type: 'line', data: fillSeries(vel, ranges, fillLevel), symbol: 'none', connectNulls: false,
            lineStyle: { width: 0 }, areaStyle: { color: ORANGE, opacity: 0.5, origin: fillLevel }, z: 2
        }, ax),
        Object.assign({ type: 'line', data: vel, symbol: 'none', lineStyle: { color: BLUE, width: 3.5 }, z: 3 }, ax),
        Object.assign({
            type: 'line', data: [], z: 4,
            markLine: {
                silent: true, symbol: ['none', 'none'], label: { show: false },
                lineStyle: { color: ORANGE, width: 3.5, type: [12, 6] },
                data: dash.map(x => ({ xAxis: x }))
            }
        }, ax)
    ]
}

let option = {
    animation: false,
    backgroundColor: '#fff',
    grid: boxes.map(b => ({ left: b[0], top: b[1], width: b[2], height: b[3], show: false, containLabel: false, outerBoundsMode: 'none' })),
    xAxis: xAxes,
    yAxis: yAxes,
    graphic: [
        { type: 'text', x: 724, y: 36, z: 20, style: { text: '2123-00', font: '42px "DejaVu Sans"', fill: '#000', align: 'center', verticalAlign: 'top' } },
        { type: 'text', x: 2114, y: 36, z: 20, style: { text: '2238-08', font: '42px "DejaVu Sans"', fill: '#000', align: 'center', verticalAlign: 'top' } }
    ],
    series: [].concat(
        spectrumPanel(0, flux2123, model2123, shade2123, dash2123),
        spectrumPanel(1, flux2238, model2238, shade2238, dash2238),
        velocityPanel(2, vel2123, fillRanges2123, velDash2123),
        velocityPanel(3, vel2238, fillRanges2238, velDash2238)
    )
}

let chart = echarts.init(document.getElementById('chart'), null, { renderer: 'canvas' })
chart.setOption(option)
</script>
</body>
</html>
